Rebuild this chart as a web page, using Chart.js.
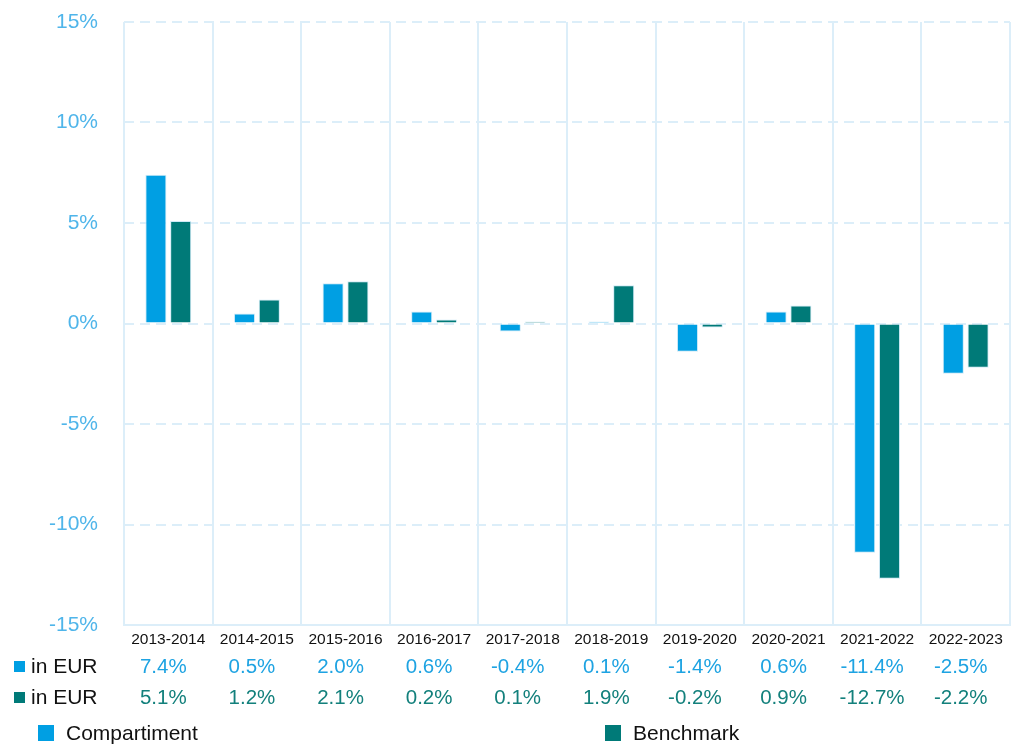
<!DOCTYPE html>
<html>
<head>
<meta charset="utf-8">
<script src="https://cdn.jsdelivr.net/npm/chart.js@4.4.1/dist/chart.umd.min.js"></script>
<style>
html,body{margin:0;padding:0;background:#fff;}
#wrap{position:relative;width:1011px;height:744px;}
</style>
</head>
<body>
<div id="wrap"><canvas id="c" width="1011" height="744"></canvas></div>
<script>
const categories = ["2013-2014","2014-2015","2015-2016","2016-2017","2017-2018","2018-2019","2019-2020","2020-2021","2021-2022","2022-2023"];
const compartiment = [7.4, 0.5, 2.0, 0.6, -0.4, 0.1, -1.4, 0.6, -11.4, -2.5];
const benchmark = [5.1, 1.2, 2.1, 0.2, 0.1, 1.9, -0.2, 0.9, -12.7, -2.2];
const seriesNames = ["Compartiment", "Benchmark"];
const rowLabel = "in EUR";
const yTicks = [-15, -10, -5, 0, 5, 10, 15];

const BLUE = '#009fe3';
const TEAL = '#007a78';
const BLUE_TXT = '#1ea3e2';
const TEAL_TXT = '#13807c';
const FONT = '"Liberation Sans", Arial, sans-serif';

const tablePlugin = {
  id: 'tableLegend',
  afterDraw(chart) {
    const ctx = chart.ctx;
    const xs = chart.scales.x;
    ctx.save();
    ctx.textBaseline = 'middle';
    const rows = [
      {y: 666, color: BLUE, txt: BLUE_TXT, data: compartiment},
      {y: 697, color: TEAL, txt: TEAL_TXT, data: benchmark}
    ];
    rows.forEach(r => {
      ctx.fillStyle = r.color;
      ctx.fillRect(14, r.y - 5, 11, 11);
      ctx.fillStyle = '#111';
      ctx.font = '21px ' + FONT;
      ctx.textAlign = 'left';
      ctx.fillText(rowLabel, 31, r.y + 1);
      ctx.fillStyle = r.txt;
      ctx.textAlign = 'center';
      ctx.font = '20.5px ' + FONT;
      r.data.forEach((v, i) => {
        const x = xs.getPixelForValue(i) - 5;
        ctx.fillText(v.toFixed(1) + '%', x, r.y + 1);
      });
    });
    const leg = [
      {x: 38, color: BLUE, name: seriesNames[0]},
      {x: 605, color: TEAL, name: seriesNames[1]}
    ];
    ctx.textAlign = 'left';
    ctx.font = '21px ' + FONT;
    leg.forEach(l => {
      ctx.fillStyle = l.color;
      ctx.fillRect(l.x, 725, 16, 16);
      ctx.fillStyle = '#111';
      ctx.fillText(l.name, l.x + 28, 734);
    });
    ctx.restore();
  }
};

new Chart(document.getElementById('c'), {
  type: 'bar',
  data: {
    labels: categories,
    datasets: [
      {label: seriesNames[0], data: compartiment, backgroundColor: BLUE, borderColor: '#cfeaf7', borderWidth: 1,
       categoryPercentage: 0.56, barPercentage: 0.85},
      {label: seriesNames[1], data: benchmark, backgroundColor: TEAL, borderColor: '#cfeaf7', borderWidth: 1,
       categoryPercentage: 0.56, barPercentage: 0.85}
    ]
  },
  options: {
    responsive: false,
    animation: false,
    devicePixelRatio: 1,
    layout: {padding: {left: 0, right: 1, top: 22, bottom: 0}},
    plugins: {legend: {display: false}, tooltip: {enabled: false}},
    scales: {
      x: {
        grid: {display: true, color: '#dceef9', lineWidth: 2, drawTicks: false, offset: true},
        border: {display: true, color: '#dceef9', width: 2},
        ticks: {color: '#111', font: {size: 15.5, family: FONT}, padding: 5, maxRotation: 0, autoSkip: false},
        afterFit(s) { s.height = 119; s.paddingLeft = 0; s.paddingRight = 0; }
      },
      y: {
        min: -15, max: 15,
        afterBuildTicks(s) { s.ticks = yTicks.map(v => ({value: v})); },
        grid: {color: '#dceef9', lineWidth: 2, drawTicks: false, borderDash: [10, 6]},
        border: {display: false, dash: [10, 6]},
        ticks: {color: '#4fb5ea', font: {size: 21, family: FONT}, padding: 26, callback: v => v + '%'},
        afterFit(s) { s.width = 124; s.paddingTop = 0; s.paddingBottom = 0; }
      }
    }
  },
  plugins: [tablePlugin]
});
</script>
</body>
</html>
